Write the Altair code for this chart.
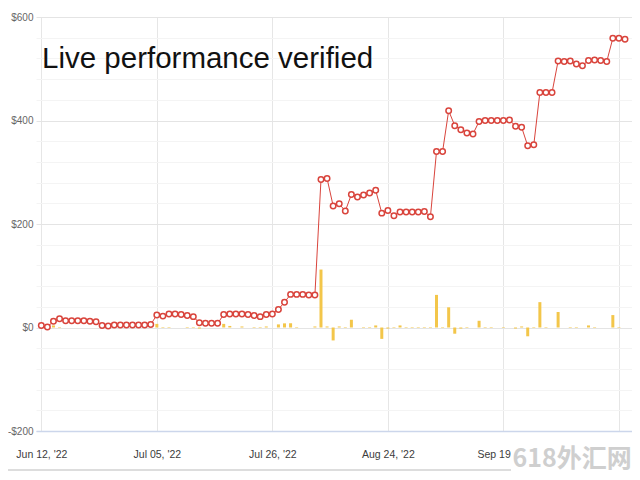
import json
import altair as alt
import pandas as pd

# ---- data ----
equity = [4, 1, 12, 17, 13, 13, 13, 13, 12, 11,
          4, 3, 5, 5, 5, 5, 5, 5, 6, 24,
          22, 26, 26, 25, 23, 21, 9, 8, 8, 8,
          25, 26, 26, 26, 25, 23, 21, 25, 26, 35,
          49, 64, 64, 64, 63, 63, 286, 288, 235, 239,
          225, 257, 252, 256, 260, 265, 221, 226, 216, 223,
          223, 223, 223, 224, 214, 340, 340, 419, 390, 382,
          376, 374, 398, 400, 400, 400, 400, 401, 389, 387,
          351, 353, 454, 454, 454, 515, 514, 515, 509, 506,
          516, 517, 516, 514, 559, 559, 557]

daily = [0, 0, 4, 1, 0, 0, 0, 0, 0, 0,
         -1, 0, 1, 0, 0, 0, 0, 0, 0, 7,
         -1, 1, 0, 0, -1, -1, -2, 0, 0, 0,
         7, 3, 0, 2, 0, -1, -1, 2, 0, 6,
         8, 8, 1, 0, 0, 2, 112, 2, -25, 2,
         1, 15, 0, 1, 1, 4, -22, -2, 1, 4,
         1, 1, 1, 1, 1, 63, 1, 39, -12, -2,
         1, 0, 13, 1, 1, 0, 1, 0, -2, 2,
         -17, 1, 49, 1, 0, 30, 0, 1, -1, 0,
         4, 1, 0, 0, 24, 1, 0]

x_tick_pos = [0, 19, 38, 57, 76, 95]
x_tick_labels = ["Jun 12, '22", "Jul 05, '22", "Jul 26, '22", "Aug 24, '22", "Sep 19, '22", ""]
y_ticks = [-200, -160, -120, -80, -40, 0, 40, 80, 120, 160, 200, 240, 280, 320, 360,
           400, 440, 480, 520, 560, 600]

title_text = "Live performance verified"
watermark_text = "618外汇网"

df = pd.DataFrame({"i": list(range(len(equity))), "equity": equity, "daily": daily})

FONT = "Liberation Sans, Arial, sans-serif"

x_label_expr = "%s[indexof(%s, datum.value)]" % (json.dumps(x_tick_labels), json.dumps(x_tick_pos))
y_label_expr = ("datum.value % 200 === 0 ? (datum.value < 0 ? '-$' + abs(datum.value) : '$' + datum.value) : ''")

x_enc = alt.X(
    "i:Q",
    scale=alt.Scale(domain=[-0.05, 96.33], nice=False, zero=False),
    axis=alt.Axis(
        values=x_tick_pos, labelExpr=x_label_expr, title=None,
        grid=True, gridColor="#e6e6e6", gridWidth=1,
        domain=True, domainColor="#ccd6eb", domainWidth=1.5,
        ticks=False, labelPadding=18, labelFlush=False, labelOverlap=False,
        labelFont=FONT, labelFontSize=10.5, labelColor="#3c3c3c",
    ),
)

y_axis = alt.Axis(
    values=y_ticks, labelExpr=y_label_expr, title=None,
    domain=False, ticks=False, labelPadding=3, labelOverlap=False,
    labelFont=FONT, labelFontSize=10, labelColor="#666666",
    gridColor={"condition": {"test": "datum.value % 200 === 0", "value": "#e4e4e4"},
               "value": "#f4f4f4"},
)
y_scale = alt.Scale(domain=[-200, 600], nice=False, zero=False)

base = alt.Chart(df)

bars = base.mark_bar(size=3, color="#f3c64a").encode(
    x=x_enc,
    y=alt.Y("daily:Q", scale=y_scale, axis=y_axis),
)

line = base.mark_line(color="#d9443c", strokeWidth=1).encode(
    x=x_enc,
    y=alt.Y("equity:Q", scale=y_scale, axis=y_axis),
)

points = base.mark_point(shape="circle", filled=True, fill="white", stroke="#d9443c",
                         strokeWidth=1.5, size=30, opacity=1).encode(
    x=x_enc,
    y=alt.Y("equity:Q", scale=y_scale, axis=y_axis),
)

title = alt.Chart(pd.DataFrame({"t": [title_text]})).mark_text(
    align="left", baseline="alphabetic", font=FONT, fontSize=29.5, color="#111111"
).encode(text="t:N", x=alt.value(6), y=alt.value(51))

bottom_line = alt.Chart(pd.DataFrame({"a": [0]})).mark_rule(
    color="#dddddd", strokeWidth=2
).encode(x=alt.value(-28), x2=alt.value(476), y=alt.value(453))

wm_box = alt.Chart(pd.DataFrame({"a": [0]})).mark_rect(color="white").encode(
    x=alt.value(475), x2=alt.value(596), y=alt.value(420), y2=alt.value(455)
)

wm_text = alt.Chart(pd.DataFrame({"t": [watermark_text]})).mark_text(
    align="center", baseline="middle", font="Noto Sans CJK SC", fontSize=25,
    fontWeight="bold", color="#cfcfcf"
).encode(text="t:N", x=alt.value(536), y=alt.value(442))

chart = alt.layer(bars, line, points, title, bottom_line, wm_box, wm_text).properties(
    width=596, height=414,
    padding={"left": 28, "top": 9, "right": 0, "bottom": 41},
    autosize=alt.AutoSizeParams(type="none"),
).configure_view(stroke=None)

chart.save("out.html", embed_options={"renderer": "svg", "actions": False})
